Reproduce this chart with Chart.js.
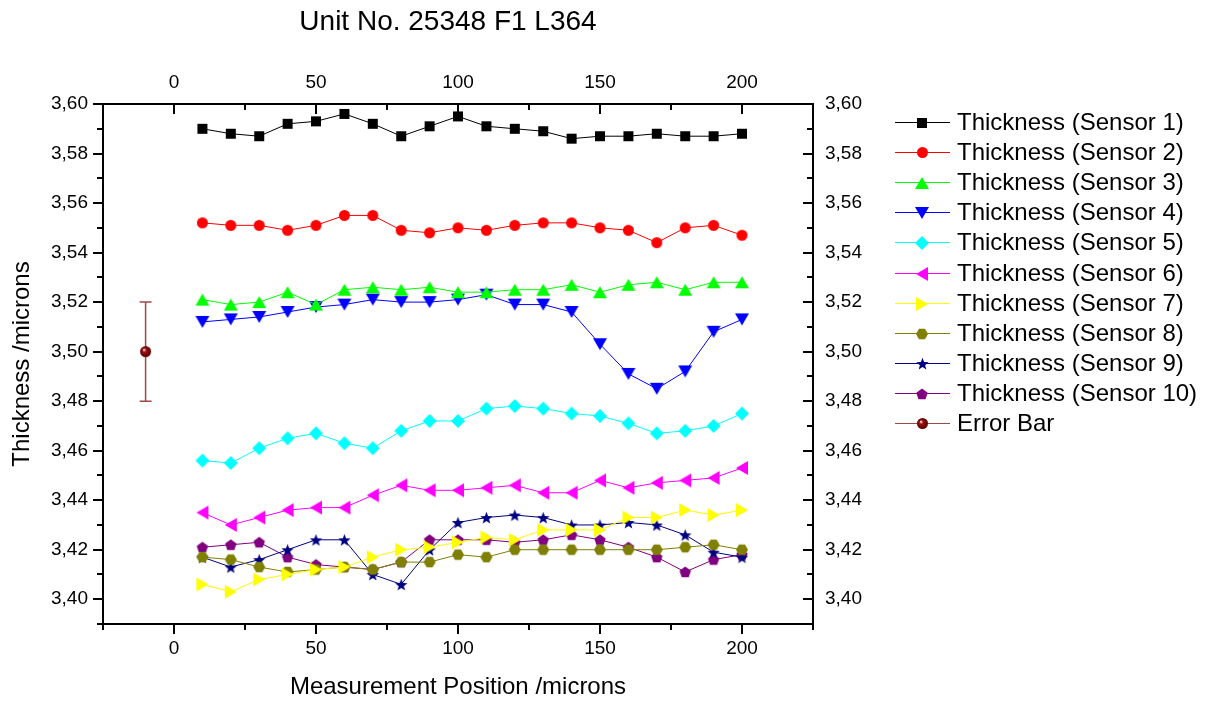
<!DOCTYPE html>
<html>
<head>
<meta charset="utf-8">
<title>Unit No. 25348 F1 L364</title>
<script src="https://cdn.jsdelivr.net/npm/chart.js@4.4.1/dist/chart.umd.min.js"></script>
<style>
    html, body { margin: 0; padding: 0; background: #fff; }
</style>
</head>
<body>
<canvas id="thicknessChart" width="1211" height="702"></canvas>
<script>
// Measurement positions (x values)
const positions = [10, 20, 30, 40, 50, 60, 70, 80, 90, 100, 110, 120, 130, 140, 150, 160, 170, 180, 190, 200];

// Thickness readings per sensor
const sensor1 = [3.590, 3.588, 3.587, 3.592, 3.593, 3.596, 3.592, 3.587, 3.591, 3.595, 3.591, 3.590, 3.589, 3.586, 3.587, 3.587, 3.588, 3.587, 3.587, 3.588];
const sensor2 = [3.552, 3.551, 3.551, 3.549, 3.551, 3.555, 3.555, 3.549, 3.548, 3.550, 3.549, 3.551, 3.552, 3.552, 3.550, 3.549, 3.544, 3.550, 3.551, 3.547];
const sensor3 = [3.521, 3.519, 3.520, 3.524, 3.519, 3.525, 3.526, 3.525, 3.526, 3.524, 3.524, 3.525, 3.525, 3.527, 3.524, 3.527, 3.528, 3.525, 3.528, 3.528];
const sensor4 = [3.512, 3.513, 3.514, 3.516, 3.518, 3.519, 3.521, 3.520, 3.520, 3.521, 3.523, 3.519, 3.519, 3.516, 3.503, 3.491, 3.485, 3.492, 3.508, 3.513];
const sensor5 = [3.456, 3.455, 3.461, 3.465, 3.467, 3.463, 3.461, 3.468, 3.472, 3.472, 3.477, 3.478, 3.477, 3.475, 3.474, 3.471, 3.467, 3.468, 3.470, 3.475];
const sensor6 = [3.435, 3.430, 3.433, 3.436, 3.437, 3.437, 3.442, 3.446, 3.444, 3.444, 3.445, 3.446, 3.443, 3.443, 3.448, 3.445, 3.447, 3.448, 3.449, 3.453];
const sensor7 = [3.406, 3.403, 3.408, 3.410, 3.412, 3.413, 3.417, 3.420, 3.421, 3.423, 3.425, 3.424, 3.428, 3.428, 3.428, 3.433, 3.433, 3.436, 3.434, 3.436];
const sensor8 = [3.417, 3.416, 3.413, 3.411, 3.412, 3.413, 3.412, 3.415, 3.415, 3.418, 3.417, 3.420, 3.420, 3.420, 3.420, 3.420, 3.420, 3.421, 3.422, 3.420];
const sensor9 = [3.417, 3.413, 3.416, 3.420, 3.424, 3.424, 3.410, 3.406, 3.420, 3.431, 3.433, 3.434, 3.433, 3.430, 3.430, 3.431, 3.430, 3.426, 3.419, 3.417];
const sensor10 = [3.421, 3.422, 3.423, 3.417, 3.414, 3.413, 3.412, 3.415, 3.424, 3.424, 3.424, 3.423, 3.424, 3.426, 3.424, 3.421, 3.417, 3.411, 3.416, 3.418];

// Error bar sample
const errX = [-10];
const errY = [3.50];
const errSize = [0.02];

// Axis ticks
const xMajorTicks = [0, 50, 100, 150, 200];
const xMinorTicks = [-25, 25, 75, 125, 175, 225];
const yMajorTicks = [3.40, 3.42, 3.44, 3.46, 3.48, 3.50, 3.52, 3.54, 3.56, 3.58, 3.60];
const yMinorTicks = [3.39, 3.41, 3.43, 3.45, 3.47, 3.49, 3.51, 3.53, 3.55, 3.57, 3.59];

const sensorLabels = ['Thickness (Sensor 1)', 'Thickness (Sensor 2)', 'Thickness (Sensor 3)', 'Thickness (Sensor 4)',
    'Thickness (Sensor 5)', 'Thickness (Sensor 6)', 'Thickness (Sensor 7)', 'Thickness (Sensor 8)',
    'Thickness (Sensor 9)', 'Thickness (Sensor 10)'];
const sensorColors = ['#000000', '#ff0000', '#00ff00', '#0000ff', '#00ffff', '#ff00ff', '#ffff00', '#808000', '#000080', '#800080'];
const sensorShapes = ['square', 'circle', 'up', 'down', 'diamond', 'left', 'right', 'hexagon', 'star', 'pentagon'];
const sensorSizes = [10, 11, 14, 14, 14, 14, 14, 12, 13, 12];
const sensorValues = [sensor1, sensor2, sensor3, sensor4, sensor5, sensor6, sensor7, sensor8, sensor9, sensor10];

const FONT = '"Liberation Sans", Arial, Helvetica, sans-serif';

// Draw a marker shape on a small canvas so it can be used as pointStyle
function makeMarker(shape, color, size) {
    const c = document.createElement('canvas');
    const S = Math.ceil(size) + 4;
    c.width = S;
    c.height = S;
    const g = c.getContext('2d');
    const m = S / 2, r = size / 2, h = size * 0.86 / 2;
    g.fillStyle = color;
    g.beginPath();
    if (shape === 'square') {
        g.rect(m - r, m - r, size, size);
    } else if (shape === 'circle') {
        g.arc(m, m, r, 0, Math.PI * 2);
    } else if (shape === 'up') {
        g.moveTo(m, m - h); g.lineTo(m + r, m + h); g.lineTo(m - r, m + h);
    } else if (shape === 'down') {
        g.moveTo(m, m + h); g.lineTo(m + r, m - h); g.lineTo(m - r, m - h);
    } else if (shape === 'left') {
        g.moveTo(m - h, m); g.lineTo(m + h, m - r); g.lineTo(m + h, m + r);
    } else if (shape === 'right') {
        g.moveTo(m + h, m); g.lineTo(m - h, m - r); g.lineTo(m - h, m + r);
    } else if (shape === 'diamond') {
        g.moveTo(m, m - r); g.lineTo(m + r, m); g.lineTo(m, m + r); g.lineTo(m - r, m);
    } else if (shape === 'hexagon') {
        for (let k = 0; k < 6; k++) {
            const a = k * Math.PI / 3;
            g.lineTo(m + r * Math.cos(a), m + r * Math.sin(a));
        }
    } else if (shape === 'pentagon') {
        for (let k = 0; k < 5; k++) {
            const a = -Math.PI / 2 + k * 2 * Math.PI / 5;
            g.lineTo(m + r * Math.cos(a), m + 0.5 + r * Math.sin(a));
        }
    } else if (shape === 'star') {
        for (let k = 0; k < 10; k++) {
            const a = -Math.PI / 2 + k * Math.PI / 5;
            const rr = k % 2 === 0 ? r : r * 0.42;
            g.lineTo(m + rr * Math.cos(a), m + 0.8 + rr * Math.sin(a));
        }
    } else if (shape === 'ball') {
        const grad = g.createRadialGradient(m - r * 0.3, m - r * 0.35, 0.5, m, m, r);
        grad.addColorStop(0, '#f2c8c8');
        grad.addColorStop(0.3, '#9a1010');
        grad.addColorStop(1, '#5a0000');
        g.fillStyle = grad;
        g.arc(m, m, r, 0, Math.PI * 2);
    }
    g.closePath();
    g.fill();
    return c;
}

function mergeTicks(major, minor) {
    return major.concat(minor).sort((a, b) => a - b).map(v => ({ value: v }));
}

function fmtY(v) {
    return v.toFixed(2).replace('.', ',');
}

function isMajor(list, v) {
    return list.some(t => Math.abs(t - v) < 1e-9);
}

// Datasets
const datasets = sensorValues.map((vals, i) => ({
    label: sensorLabels[i],
    data: positions.map((x, j) => ({ x: x, y: vals[j] })),
    borderColor: sensorColors[i],
    backgroundColor: sensorColors[i],
    borderWidth: 1,
    tension: 0,
    pointStyle: makeMarker(sensorShapes[i], sensorColors[i], sensorSizes[i]),
    pointRadius: 5
}));

datasets.push({
    label: 'Error Bar',
    data: errX.map((x, j) => ({ x: x, y: errY[j] })),
    borderColor: '#a04848',
    backgroundColor: '#800000',
    borderWidth: 1,
    showLine: false,
    pointStyle: makeMarker('ball', '#800000', 11),
    pointRadius: 5
});

// Error bar whiskers
const errorBars = {
    id: 'errorBars',
    beforeDatasetsDraw(chart) {
        const ctx = chart.ctx, xs = chart.scales.x, ys = chart.scales.y;
        ctx.save();
        ctx.strokeStyle = '#a04848';
        ctx.lineWidth = 1.5;
        errX.forEach((x, j) => {
            const px = xs.getPixelForValue(x);
            const top = ys.getPixelForValue(errY[j] + errSize[j]);
            const bot = ys.getPixelForValue(errY[j] - errSize[j]);
            ctx.beginPath();
            ctx.moveTo(px, top); ctx.lineTo(px, bot);
            ctx.moveTo(px - 6, top); ctx.lineTo(px + 6, top);
            ctx.moveTo(px - 6, bot); ctx.lineTo(px + 6, bot);
            ctx.stroke();
        });
        ctx.restore();
    }
};

// Major / minor tick marks on all four sides
const tickMarks = {
    id: 'tickMarks',
    afterDraw(chart) {
        const ctx = chart.ctx, area = chart.chartArea;
        ctx.save();
        ctx.strokeStyle = '#000';
        ctx.lineWidth = 2;
        ctx.beginPath();
        [['x', xMajorTicks, 1], ['x2', xMajorTicks, 1]].forEach(([id, major]) => {
            const s = chart.scales[id];
            s.ticks.forEach(t => {
                const len = isMajor(major, t.value) ? 10 : 6;
                const px = Math.round(s.getPixelForValue(t.value));
                if (id === 'x') { ctx.moveTo(px, area.bottom); ctx.lineTo(px, area.bottom + len); }
                else { ctx.moveTo(px, area.top); ctx.lineTo(px, area.top + len); }
            });
        });
        [['y', yMajorTicks], ['y2', yMajorTicks]].forEach(([id, major]) => {
            const s = chart.scales[id];
            s.ticks.forEach(t => {
                const len = isMajor(major, t.value) ? 10 : 6;
                const py = Math.round(s.getPixelForValue(t.value));
                if (id === 'y') { ctx.moveTo(area.left, py); ctx.lineTo(area.left - len, py); }
                else { ctx.moveTo(area.right, py); ctx.lineTo(area.right - len, py); }
            });
        });
        ctx.stroke();
        ctx.restore();
    }
};

// Chart title, placed like the original
const chartTitle = {
    id: 'chartTitle',
    afterDraw(chart) {
        const ctx = chart.ctx;
        ctx.save();
        ctx.fillStyle = '#000';
        ctx.font = '28px ' + FONT;
        ctx.textAlign = 'center';
        ctx.textBaseline = 'middle';
        ctx.fillText('Unit No. 25348 F1 L364', 448, 22);
        ctx.restore();
    }
};

// Legend with line + marker like Origin
const lineLegend = {
    id: 'lineLegend',
    afterDraw(chart) {
        const ctx = chart.ctx;
        ctx.save();
        ctx.font = '24px ' + FONT;
        ctx.textBaseline = 'middle';
        ctx.textAlign = 'left';
        chart.data.datasets.forEach((ds, i) => {
            const y = Math.round(122 + i * 30.1) + 0.5;
            ctx.strokeStyle = ds.borderColor;
            ctx.lineWidth = 1;
            ctx.beginPath();
            ctx.moveTo(895, y); ctx.lineTo(950, y);
            ctx.stroke();
            const img = ds.pointStyle;
            ctx.drawImage(img, Math.round(922 - img.width / 2), Math.round(y - img.height / 2));
            ctx.fillStyle = '#000';
            ctx.fillText(ds.label, 957, y + 1);
        });
        ctx.restore();
    }
};

const tickFont = { family: FONT, size: 19 };
const axisBorder = { display: true, color: '#000', width: 2 };

const ctx = document.getElementById('thicknessChart').getContext('2d');
const myChart = new Chart(ctx, {
    type: 'line',
    data: { datasets: datasets },
    options: {
        responsive: false,
        animation: false,
        events: [],
        layout: { padding: 0 },
        plugins: {
            legend: { display: false },
            title: { display: false },
            tooltip: { enabled: false }
        },
        scales: {
            x: {
                type: 'linear',
                position: 'bottom',
                min: -25,
                max: 225,
                afterBuildTicks: s => { s.ticks = mergeTicks(xMajorTicks, xMinorTicks); },
                afterFit: s => { s.height = 78; },
                grid: { display: false, drawTicks: false },
                border: axisBorder,
                ticks: {
                    autoSkip: false, maxRotation: 0, padding: 13, color: '#000', font: tickFont,
                    callback: v => isMajor(xMajorTicks, v) ? String(v) : ''
                },
                title: {
                    display: true, text: 'Measurement Position /microns', color: '#000',
                    font: { family: FONT, size: 24 }, padding: { top: 0, bottom: 0 }
                }
            },
            x2: {
                type: 'linear',
                position: 'top',
                min: -25,
                max: 225,
                afterBuildTicks: s => { s.ticks = mergeTicks(xMajorTicks, xMinorTicks); },
                afterFit: s => { s.height = 104; },
                grid: { display: false, drawTicks: false },
                border: axisBorder,
                ticks: {
                    autoSkip: false, maxRotation: 0, padding: 10, color: '#000', font: tickFont,
                    callback: v => isMajor(xMajorTicks, v) ? String(v) : ''
                }
            },
            y: {
                type: 'linear',
                position: 'left',
                min: 3.39,
                max: 3.60,
                afterBuildTicks: s => { s.ticks = mergeTicks(yMajorTicks, yMinorTicks); },
                afterFit: s => { s.width = 103; },
                grid: { display: false, drawTicks: false },
                border: axisBorder,
                ticks: {
                    autoSkip: false, padding: 15, color: '#000', font: tickFont,
                    callback: v => isMajor(yMajorTicks, v) ? fmtY(v) : ''
                },
                title: {
                    display: true, text: 'Thickness /microns', color: '#000',
                    font: { family: FONT, size: 24 }, padding: { top: 8, bottom: 0 }
                }
            },
            y2: {
                type: 'linear',
                position: 'right',
                min: 3.39,
                max: 3.60,
                afterBuildTicks: s => { s.ticks = mergeTicks(yMajorTicks, yMinorTicks); },
                afterFit: s => { s.width = 398; },
                grid: { display: false, drawTicks: false },
                border: axisBorder,
                ticks: {
                    autoSkip: false, padding: 12, color: '#000', font: tickFont,
                    callback: v => isMajor(yMajorTicks, v) ? fmtY(v) : ''
                }
            }
        }
    },
    plugins: [errorBars, tickMarks, chartTitle, lineLegend]
});
</script>
</body>
</html>
